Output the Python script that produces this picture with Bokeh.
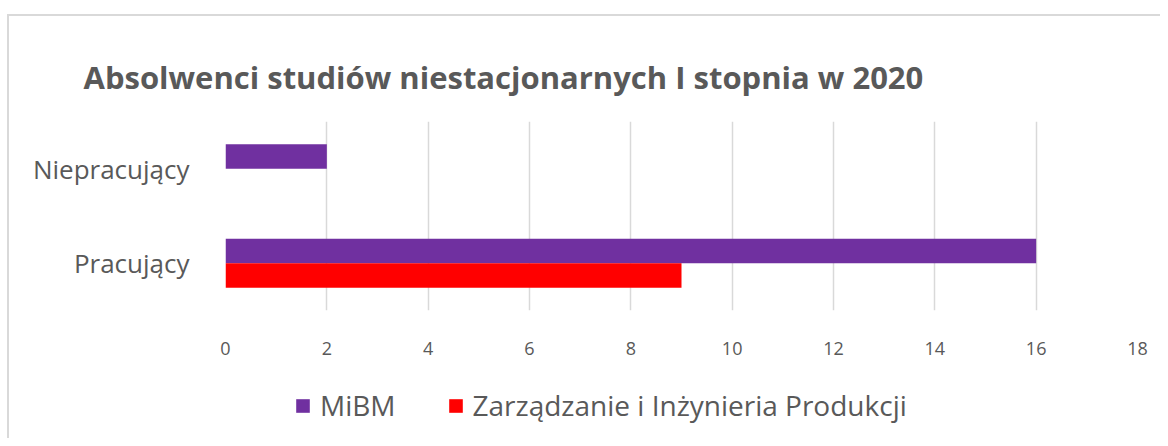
from bokeh.plotting import figure
from bokeh.models import (FactorRange, ColumnDataSource, Legend, LegendItem,
                          FixedTicker, Title)
from bokeh.layouts import column
from bokeh.transform import dodge
from bokeh.embed import file_html
from bokeh.resources import INLINE

categories = ["Pracujący", "Niepracujący"]
series_names = ["MiBM", "Zarządzanie i Inżynieria Produkcji"]
mibm = [16, 2]
ziip = [9, 0]
x_ticks = [0, 2, 4, 6, 8, 10, 12, 14, 16, 18]
title_text = "Absolwenci studiów niestacjonarnych I stopnia w 2020"

PURPLE = "#7030A0"
RED = "#FF0000"
TXT = "#595959"
FONT = "Open Sans"

src = ColumnDataSource(dict(cat=categories, mibm=mibm, ziip=ziip))

p = figure(frame_width=912, frame_height=189, y_range=FactorRange(*categories),
           x_range=(0, 18), output_backend="svg", toolbar_location=None,
           min_border_left=216, min_border_right=23, min_border_top=105,
           min_border_bottom=60)
p.outline_line_color = None
p.background_fill_color = "white"
p.border_fill_color = "white"

r1 = p.hbar(y=dodge("cat", 0.13, range=p.y_range), right="mibm", left=0,
            height=0.26, source=src, color=PURPLE, line_color=None)
r2 = p.hbar(y=dodge("cat", -0.13, range=p.y_range), right="ziip", left=0,
            height=0.26, source=src, color=RED, line_color=None)

p.xaxis.ticker = FixedTicker(ticks=x_ticks)
p.xaxis.axis_line_color = None
p.xaxis.major_tick_line_color = None
p.xaxis.minor_tick_line_color = None
p.xaxis.major_label_text_font = FONT
p.xaxis.major_label_text_font_size = "18px"
p.xaxis.major_label_text_color = TXT
p.xaxis.major_label_standoff = 25

p.yaxis.axis_line_color = None
p.yaxis.major_tick_line_color = None
p.yaxis.minor_tick_line_color = None
p.yaxis.major_label_text_font = FONT
p.yaxis.major_label_text_font_size = "26px"
p.yaxis.major_label_text_color = TXT
p.yaxis.major_label_standoff = 30

p.xgrid.grid_line_color = "#d9d9d9"
p.xgrid.grid_line_width = 1.5
p.ygrid.grid_line_color = None

p.title = Title(text=title_text, align="left", text_font=FONT,
                text_font_size="31px", text_font_style="bold",
                text_color=TXT, offset=-142, standoff=48)

# legend strip below the chart (its frame is aligned with the chart's frame)
p2 = figure(width=1151, height=68, x_range=(0, 1), y_range=(0, 1),
            output_backend="svg", toolbar_location=None,
            x_axis_type=None, y_axis_type=None,
            min_border_left=31, min_border_right=0, min_border_top=6,
            min_border_bottom=0)
p2.outline_line_color = None
p2.xgrid.grid_line_color = None
p2.ygrid.grid_line_color = None
lr1 = p2.hbar(y=0.5, right=0, left=0, height=0.5, color=PURPLE, line_color=None)
lr2 = p2.hbar(y=0.5, right=0, left=0, height=0.5, color=RED, line_color=None)

legend = Legend(items=[LegendItem(label=series_names[0], renderers=[lr1]),
                       LegendItem(label=series_names[1], renderers=[lr2])],
                orientation="horizontal", location=(69, 14))
legend.label_text_font = FONT
legend.label_text_font_size = "28px"
legend.label_text_color = TXT
legend.glyph_width = 17
legend.glyph_height = 17
legend.label_standoff = 9
legend.spacing = 51
legend.padding = 0
legend.margin = 0
legend.border_line_color = None
legend.background_fill_alpha = 0
p2.add_layout(legend, "center")

layout = column(p, p2, spacing=0)
layout.styles = {"margin-top": "14px", "margin-left": "7px",
                 "border-top": "2px solid #d9d9d9",
                 "border-left": "2px solid #d9d9d9"}
open("out.html", "w").write(file_html(layout, INLINE))
